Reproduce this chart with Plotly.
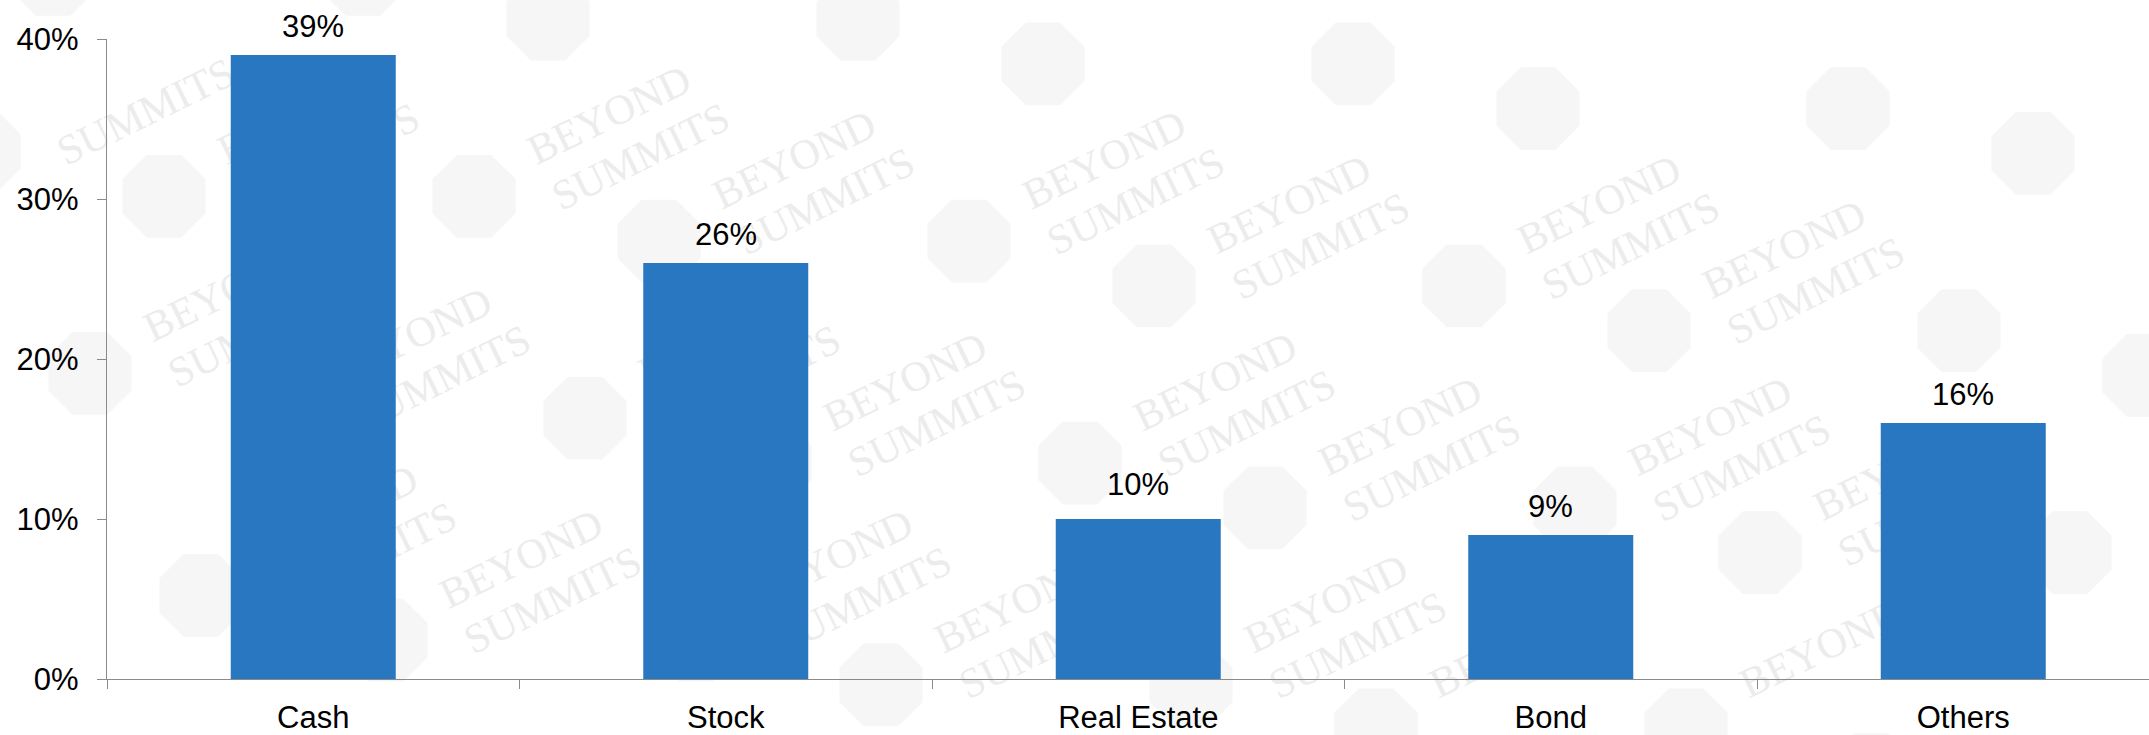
import math
import plotly.graph_objects as go

# Asset allocation shares (%)
categories = ["Cash", "Stock", "Real Estate", "Bond", "Others"]
shares = [39, 26, 10, 9, 16]
y_ticks = [0, 10, 20, 30, 40]
y_tick_labels = ["0%", "10%", "20%", "30%", "40%"]

# Extra vertical lift (px) for individual value labels
label_lift = [0, 0, 6, 0, 0]

BAR_COLOR = "#2877C0"
AXIS_COLOR = "#8A8A8A"
FONT = "Liberation Sans, Arial, sans-serif"
FONT_SIZE = 31

W, H = 2149, 735
ML, MR, MT, MB = 107, 0, 39, 53
plot_w = W - ML - MR
plot_h = H - MT - MB
cat_px = 412.5  # pixel width of one category slot

fig = go.Figure()
fig.add_trace(go.Bar(
    x=categories,
    y=shares,
    marker=dict(color=BAR_COLOR, line=dict(width=0)),
    hoverinfo="x+y",
))

# Value labels above bars
for cat, v, lift in zip(categories, shares, label_lift):
    fig.add_annotation(
        x=cat, y=v, xref="x", yref="y",
        text=f"{v}%", showarrow=False,
        yanchor="bottom", yshift=9 + lift,
        font=dict(family=FONT, size=FONT_SIZE, color="#000000"),
    )


# ---- faint tiled "BEYOND SUMMITS" watermark, drawn beneath the bars ----
def px_to_paper(px, py):
    return (px - ML) / plot_w, (H - MB - py) / plot_h


def octagon_path(cx, cy, r):
    pts = []
    for k in range(8):
        a = math.radians(22.5 + 45 * k)
        pts.append(px_to_paper(cx + r * math.cos(a), cy + r * math.sin(a)))
    return "M " + " L ".join(f"{x:.5f},{y:.5f}" for x, y in pts) + " Z"


origin = (548, 19)          # one seal of the tiling
step_p = (495, 45)          # along a diagonal chain of seal pairs
step_q = (-384, 178)        # from one chain to the next
pair_dx = 310               # spacing inside a pair
seal_r = 45
wm_words = [((43, -43), (223, -130), "BEYOND"),
            ((66, 4), (263, -93), "SUMMITS")]
wm_font = dict(family="Liberation Serif, Times New Roman, serif",
               size=42, color="#ECECEC")

shapes = []
for k in range(-6, 8):
    for m in range(-4, 6):
        for d in (0, pair_dx):
            sx = origin[0] + k * step_p[0] + m * step_q[0] + d
            sy = origin[1] + k * step_p[1] + m * step_q[1]
            if -60 < sx < W + 60 and -60 < sy < H + 60:
                shapes.append(dict(
                    type="path", xref="paper", yref="paper",
                    path=octagon_path(sx, sy, seal_r),
                    fillcolor="#F6F6F6", line=dict(width=0), layer="below",
                ))
            for (ax, ay), (bx, by), word in wm_words:
                mx, my = sx + (ax + bx) / 2, sy + (ay + by) / 2
                if not (105 < mx < W - 105 and 68 < my < H - 68):
                    continue
                x0, y0 = px_to_paper(sx + ax, sy + ay)
                x1, y1 = px_to_paper(sx + bx, sy + by)
                # text follows the direction of the (invisible) line
                shapes.append(dict(
                    type="line", xref="paper", yref="paper",
                    x0=x0, y0=y0, x1=x1, y1=y1,
                    line=dict(width=0, color="rgba(0,0,0,0)"), layer="below",
                    label=dict(text=word, textposition="middle",
                               yanchor="middle", font=wm_font),
                ))

fig.update_layout(
    width=W, height=H,
    margin=dict(l=ML, r=MR, t=MT, b=MB, pad=0),
    paper_bgcolor="#FFFFFF",
    plot_bgcolor="rgba(0,0,0,0)",
    showlegend=False,
    bargap=0.6,
    shapes=shapes,
    font=dict(family=FONT, size=FONT_SIZE, color="#000000"),
)

fig.update_xaxes(
    type="category",
    range=[-0.5, -0.5 + plot_w / cat_px],
    showline=True, linecolor=AXIS_COLOR, linewidth=1.4,
    ticks="outside", tickson="boundaries", ticklen=9, tickwidth=1.4,
    tickcolor=AXIS_COLOR,
    showgrid=False, zeroline=False,
    tickfont=dict(family=FONT, size=FONT_SIZE, color="#000000"),
    ticklabelstandoff=11,
)

fig.update_yaxes(
    range=[0, 40],
    tickvals=y_ticks, ticktext=y_tick_labels,
    showline=True, linecolor=AXIS_COLOR, linewidth=1.4,
    ticks="outside", ticklen=9, tickwidth=1.4, tickcolor=AXIS_COLOR,
    showgrid=False, zeroline=False,
    tickfont=dict(family=FONT, size=FONT_SIZE, color="#000000"),
    ticklabelstandoff=12,
)

fig.write_html("out.html")
